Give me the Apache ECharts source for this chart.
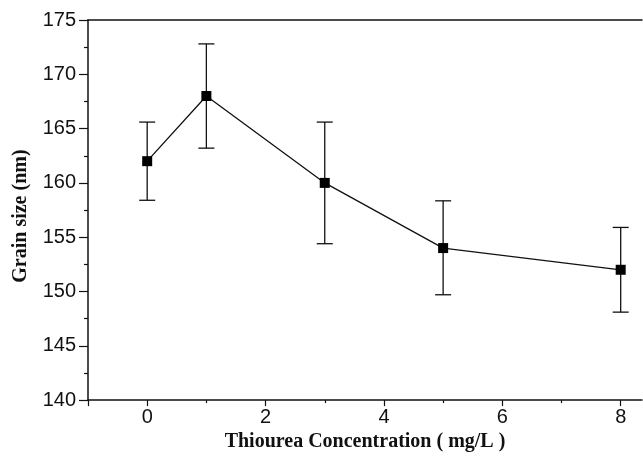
<!DOCTYPE html>
<html>
<head>
<meta charset="utf-8">
<script src="https://cdn.jsdelivr.net/npm/echarts@6/dist/echarts.min.js"></script>
<style>html,body{margin:0;padding:0;background:#fff}#c{width:643px;height:457px}</style>
</head>
<body>
<div id="c"></div>
<script>
const xValues = [0, 1, 3, 5, 8];
const yMeans = [162, 168, 160, 154, 152];
const yLower = [158.4, 163.2, 154.4, 149.7, 148.1];
const yUpper = [165.6, 172.8, 165.6, 158.35, 155.9];
const xMajorTicks = [0, 2, 4, 6, 8];
const xMinorTicks = [1, 3, 5, 7];
const xTitle = 'Thiourea Concentration ( mg/L )';
const yTitle = 'Grain size (nm)';

const ink = '#111';
const chart = echarts.init(document.getElementById('c'));
const xMin = -1, xMax = 8.36;
const lineData = xValues.map((x, i) => [x, yMeans[i]]);
const errData = xValues.map((x, i) => [x, yLower[i], yUpper[i]]);

chart.setOption({
  animation: false,
  backgroundColor: '#fff',
  grid: { left: 88, right: 1, top: 20, bottom: 54, containLabel: false },
  xAxis: [
    {
      type: 'value', min: xMin, max: xMax, position: 'bottom',
      name: xTitle, nameLocation: 'middle', nameGap: 31,
      nameTextStyle: { fontFamily: 'Liberation Serif', fontWeight: 'bold', fontSize: 20, color: ink },
      axisLine: { show: true, onZero: false, lineStyle: { color: ink, width: 1.5 } },
      axisTick: { show: true, inside: false, length: 6, customValues: [xMin].concat(xMajorTicks), lineStyle: { color: ink, width: 1.2 } },
      axisLabel: { show: true, customValues: xMajorTicks, margin: 7, fontFamily: 'Liberation Sans', fontSize: 20, color: ink },
      splitLine: { show: false }
    },
    {
      type: 'value', min: xMin, max: xMax, position: 'bottom',
      axisLine: { show: false, onZero: false },
      axisTick: { show: true, inside: false, length: 3, customValues: xMinorTicks, lineStyle: { color: ink, width: 1.2 } },
      axisLabel: { show: false },
      splitLine: { show: false }
    },
    {
      type: 'value', min: xMin, max: xMax, position: 'top',
      axisLine: { show: true, onZero: false, lineStyle: { color: ink, width: 1.5 } },
      axisTick: { show: false }, axisLabel: { show: false }, splitLine: { show: false }
    }
  ],
  yAxis: {
    type: 'value', min: 140, max: 175, interval: 5,
    name: yTitle, nameLocation: 'middle', nameGap: 57, nameRotate: 90,
    nameTextStyle: { fontFamily: 'Liberation Serif', fontWeight: 'bold', fontSize: 20, color: ink, padding: [0, 12, 0, 0] },
    axisLine: { show: true, onZero: false, lineStyle: { color: ink, width: 1.5 } },
    axisTick: { show: true, inside: false, length: 9, lineStyle: { color: ink, width: 1.2 } },
    minorTick: { show: true, splitNumber: 2, length: 4, lineStyle: { color: ink, width: 1.2 } },
    axisLabel: { margin: 12, fontFamily: 'Liberation Sans', fontSize: 20, color: ink },
    splitLine: { show: false }
  },
  series: [
    {
      type: 'custom',
      xAxisIndex: 0,
      z: 1,
      data: errData,
      renderItem: function (params, api) {
        const x = api.value(0);
        const lo = api.coord([x, api.value(1)]);
        const hi = api.coord([x, api.value(2)]);
        const hw = 8;
        const st = { stroke: ink, lineWidth: 1.3 };
        return {
          type: 'group',
          children: [
            { type: 'line', shape: { x1: lo[0], y1: lo[1], x2: hi[0], y2: hi[1] }, style: st },
            { type: 'line', shape: { x1: lo[0] - hw, y1: lo[1], x2: lo[0] + hw, y2: lo[1] }, style: st },
            { type: 'line', shape: { x1: hi[0] - hw, y1: hi[1], x2: hi[0] + hw, y2: hi[1] }, style: st }
          ]
        };
      }
    },
    {
      type: 'line',
      xAxisIndex: 0,
      z: 2,
      data: lineData,
      symbol: 'rect',
      symbolSize: 10,
      itemStyle: { color: '#000' },
      lineStyle: { color: ink, width: 1.3 }
    }
  ]
});
</script>
</body>
</html>
